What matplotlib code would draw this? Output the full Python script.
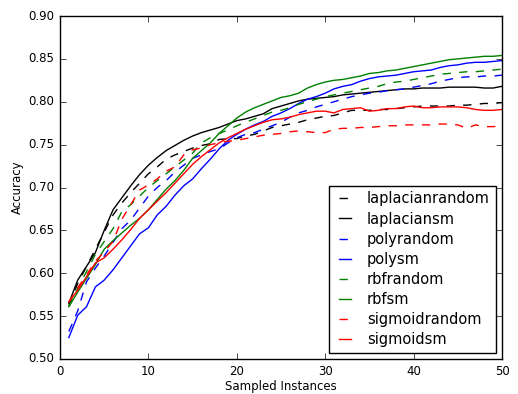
import matplotlib
matplotlib.use('Agg')
import matplotlib.pyplot as plt

plt.style.use('classic')

# sampled instances
x = list(range(1, 51))

laplacianrandom = [0.562, 0.588, 0.608, 0.628, 0.648, 0.668, 0.682, 0.694, 0.705, 0.716,
                   0.724, 0.733, 0.738, 0.742, 0.746, 0.749, 0.751, 0.756, 0.757, 0.757,
                   0.760, 0.762, 0.766, 0.770, 0.772, 0.774, 0.776, 0.779, 0.781, 0.783,
                   0.784, 0.787, 0.790, 0.790, 0.790, 0.791, 0.791, 0.792, 0.793, 0.794,
                   0.795, 0.795, 0.795, 0.795, 0.796, 0.796, 0.797, 0.798, 0.798, 0.799]
laplaciansm = [0.565, 0.592, 0.608, 0.624, 0.650, 0.674, 0.688, 0.702, 0.715, 0.726,
               0.735, 0.743, 0.749, 0.755, 0.760, 0.764, 0.767, 0.770, 0.774, 0.778,
               0.780, 0.783, 0.786, 0.792, 0.795, 0.798, 0.801, 0.803, 0.804, 0.805,
               0.806, 0.808, 0.809, 0.810, 0.811, 0.812, 0.813, 0.814, 0.815, 0.815,
               0.816, 0.816, 0.816, 0.817, 0.817, 0.817, 0.817, 0.816, 0.816, 0.818]
polyrandom = [0.532, 0.556, 0.590, 0.606, 0.620, 0.636, 0.652, 0.662, 0.676, 0.690,
              0.700, 0.708, 0.718, 0.726, 0.734, 0.738, 0.742, 0.745, 0.752, 0.758,
              0.762, 0.764, 0.768, 0.772, 0.776, 0.782, 0.787, 0.790, 0.794, 0.797,
              0.800, 0.803, 0.806, 0.808, 0.810, 0.811, 0.813, 0.814, 0.815, 0.817,
              0.819, 0.821, 0.824, 0.826, 0.828, 0.829, 0.829, 0.830, 0.830, 0.831]
polysm = [0.525, 0.551, 0.561, 0.584, 0.592, 0.604, 0.618, 0.632, 0.646, 0.653,
          0.668, 0.678, 0.691, 0.702, 0.710, 0.722, 0.733, 0.745, 0.755, 0.762,
          0.768, 0.773, 0.777, 0.783, 0.787, 0.792, 0.798, 0.803, 0.806, 0.810,
          0.815, 0.818, 0.820, 0.824, 0.827, 0.829, 0.830, 0.831, 0.833, 0.835,
          0.836, 0.837, 0.840, 0.842, 0.843, 0.845, 0.846, 0.846, 0.847, 0.848]
rbfrandom = [0.561, 0.582, 0.602, 0.622, 0.637, 0.652, 0.672, 0.680, 0.690, 0.700,
             0.708, 0.716, 0.724, 0.732, 0.740, 0.752, 0.758, 0.763, 0.767, 0.772,
             0.776, 0.780, 0.784, 0.788, 0.790, 0.793, 0.797, 0.800, 0.803, 0.806,
             0.808, 0.810, 0.812, 0.814, 0.816, 0.818, 0.821, 0.823, 0.824, 0.826,
             0.828, 0.830, 0.832, 0.833, 0.834, 0.835, 0.835, 0.836, 0.837, 0.838]
rbfsm = [0.561, 0.578, 0.594, 0.610, 0.628, 0.638, 0.647, 0.656, 0.664, 0.674,
         0.686, 0.698, 0.708, 0.720, 0.734, 0.743, 0.752, 0.763, 0.772, 0.781,
         0.788, 0.793, 0.797, 0.801, 0.805, 0.807, 0.810, 0.816, 0.820, 0.823,
         0.825, 0.826, 0.828, 0.830, 0.833, 0.834, 0.836, 0.837, 0.839, 0.841,
         0.843, 0.845, 0.847, 0.849, 0.850, 0.851, 0.852, 0.853, 0.853, 0.854]
sigmoidrandom = [0.566, 0.583, 0.598, 0.614, 0.625, 0.637, 0.663, 0.680, 0.697, 0.703,
                 0.710, 0.719, 0.724, 0.738, 0.744, 0.746, 0.750, 0.752, 0.754, 0.755,
                 0.757, 0.759, 0.761, 0.762, 0.763, 0.765, 0.766, 0.765, 0.764, 0.764,
                 0.768, 0.769, 0.769, 0.770, 0.770, 0.771, 0.772, 0.772, 0.773, 0.773,
                 0.773, 0.773, 0.774, 0.774, 0.773, 0.769, 0.773, 0.771, 0.771, 0.772]
sigmoidsm = [0.567, 0.580, 0.596, 0.612, 0.618, 0.628, 0.639, 0.651, 0.664, 0.674,
             0.684, 0.694, 0.705, 0.716, 0.727, 0.736, 0.744, 0.752, 0.758, 0.763,
             0.768, 0.772, 0.776, 0.779, 0.780, 0.782, 0.785, 0.787, 0.789, 0.789,
             0.787, 0.791, 0.792, 0.793, 0.789, 0.790, 0.792, 0.792, 0.794, 0.795,
             0.793, 0.793, 0.794, 0.794, 0.794, 0.793, 0.791, 0.790, 0.790, 0.791]

series = [
    ('laplacianrandom', laplacianrandom, 'k', '--'),
    ('laplaciansm', laplaciansm, 'k', '-'),
    ('polyrandom', polyrandom, 'b', '--'),
    ('polysm', polysm, 'b', '-'),
    ('rbfrandom', rbfrandom, 'g', '--'),
    ('rbfsm', rbfsm, 'g', '-'),
    ('sigmoidrandom', sigmoidrandom, 'r', '--'),
    ('sigmoidsm', sigmoidsm, 'r', '-'),
]

fig = plt.figure(figsize=(5.18, 3.94), dpi=100)
fig.patch.set_facecolor('white')
ax = fig.add_axes([60 / 518, 35 / 394, 442 / 518, 343 / 394])

for name, vals, col, ls in series:
    ax.plot(x, vals, color=col, linestyle=ls, linewidth=1, label=name)

ax.set_xlim(0, 50)
ax.set_ylim(0.50, 0.90)
ax.set_xticks([0, 10, 20, 30, 40, 50])
ax.set_yticks([0.50, 0.55, 0.60, 0.65, 0.70, 0.75, 0.80, 0.85, 0.90])
ax.tick_params(labelsize=8.5)
ax.set_xlabel('Sampled Instances', fontsize=8.5, labelpad=2)
ax.set_ylabel('Accuracy', fontsize=8.5, labelpad=3)

ax.legend(loc='lower right', bbox_to_anchor=(0.986, 0.0175), borderaxespad=0,
          fontsize=10.5, handlelength=1.4, labelspacing=0.35, frameon=True)

plt.savefig('out.png', dpi=100)
